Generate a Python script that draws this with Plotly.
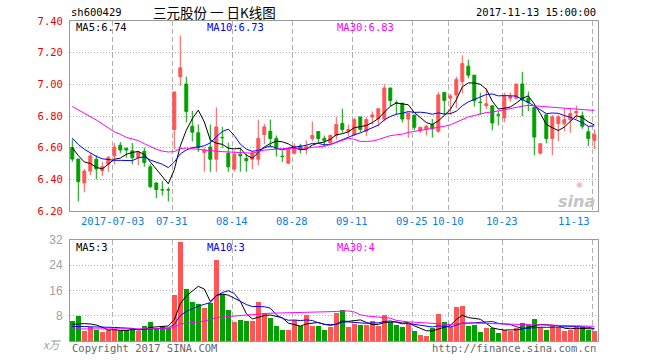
import plotly.graph_objects as go

# ---------------- data ----------------
opens = [6.60, 6.528, 6.377, 6.452, 6.527, 6.455, 6.495, 6.548, 6.615, 6.596,
         6.58, 6.537, 6.577, 6.479, 6.377, 6.335, 6.335, 6.715, 7.048, 7.002,
         6.735, 6.694, 6.569, 6.604, 6.527, 6.665, 6.565, 6.465, 6.558, 6.531,
         6.527, 6.527, 6.683, 6.704, 6.658, 6.546, 6.502, 6.565, 6.61, 6.594,
         6.658, 6.702, 6.658, 6.631, 6.677, 6.752, 6.704, 6.683, 6.794, 6.704,
         6.794, 6.781, 6.781, 6.977, 6.883, 6.881, 6.781, 6.806, 6.71, 6.715,
         6.746, 6.704, 6.948, 6.912, 6.933, 7.017, 7.115, 7.058, 6.887, 6.865,
         6.865, 6.808, 6.788, 6.912, 6.912, 7.002, 6.912, 6.854, 6.565, 6.808,
         6.658, 6.752, 6.752, 6.777, 6.819, 6.802, 6.70, 6.646]
highs = [6.652, 6.53, 6.465, 6.565, 6.552, 6.51, 6.548, 6.63, 6.635, 6.60,
         6.63, 6.58, 6.60, 6.496, 6.381, 6.39, 6.35, 6.952, 7.308, 7.048,
         6.833, 6.746, 6.60, 6.746, 6.854, 6.731, 6.631, 6.58, 6.60, 6.56,
         6.58, 6.777, 6.75, 6.777, 6.677, 6.579, 6.60, 6.627, 6.625, 6.646,
         6.765, 6.702, 6.677, 6.683, 6.794, 6.846, 6.746, 6.788, 6.794, 6.794,
         6.829, 6.846, 7.0, 6.977, 6.898, 6.881, 6.819, 6.806, 6.729, 6.746,
         6.781, 6.95, 6.948, 6.94, 7.048, 7.183, 7.156, 7.058, 6.948, 6.975,
         6.865, 6.83, 6.948, 6.948, 7.002, 7.079, 6.954, 6.854, 6.625, 6.808,
         6.808, 6.808, 6.846, 6.846, 6.865, 6.829, 6.735, 6.715]
lows = [6.511, 6.26, 6.319, 6.427, 6.40, 6.42, 6.448, 6.495, 6.565, 6.537,
        6.495, 6.49, 6.48, 6.344, 6.281, 6.298, 6.26, 6.59, 6.99, 6.76,
        6.64, 6.573, 6.448, 6.448, 6.448, 6.60, 6.448, 6.448, 6.448, 6.448,
        6.465, 6.49, 6.621, 6.60, 6.544, 6.51, 6.496, 6.558, 6.563, 6.558,
        6.642, 6.631, 6.606, 6.621, 6.652, 6.694, 6.673, 6.673, 6.698, 6.673,
        6.746, 6.735, 6.767, 6.86, 6.808, 6.76, 6.663, 6.71, 6.694, 6.677,
        6.663, 6.694, 6.808, 6.808, 6.85, 6.944, 7.038, 6.86, 6.808, 6.844,
        6.71, 6.74, 6.76, 6.89, 6.906, 6.80, 6.83, 6.552, 6.558, 6.627,
        6.552, 6.642, 6.704, 6.694, 6.781, 6.719, 6.61, 6.59]
closes = [6.528, 6.385, 6.452, 6.548, 6.465, 6.48, 6.537, 6.604, 6.585, 6.585,
          6.537, 6.569, 6.506, 6.354, 6.335, 6.333, 6.333, 6.952, 7.104, 6.829,
          6.698, 6.60, 6.585, 6.527, 6.731, 6.663, 6.479, 6.558, 6.548, 6.517,
          6.565, 6.658, 6.731, 6.658, 6.594, 6.544, 6.594, 6.61, 6.594, 6.606,
          6.677, 6.658, 6.646, 6.677, 6.746, 6.715, 6.715, 6.777, 6.715, 6.777,
          6.806, 6.846, 6.977, 6.898, 6.881, 6.781, 6.819, 6.729, 6.729, 6.735,
          6.719, 6.933, 6.898, 6.927, 7.031, 7.131, 7.058, 6.896, 6.885, 6.877,
          6.756, 6.806, 6.923, 6.923, 7.002, 6.902, 6.885, 6.667, 6.625, 6.658,
          6.794, 6.794, 6.777, 6.815, 6.829, 6.735, 6.658, 6.683]
ma5 = [6.60, 6.55, 6.51, 6.50, 6.476, 6.466, 6.496, 6.527, 6.534, 6.558,
       6.570, 6.576, 6.556, 6.510, 6.460, 6.419, 6.372, 6.461, 6.611, 6.710,
       6.783, 6.837, 6.763, 6.648, 6.628, 6.621, 6.597, 6.592, 6.596, 6.553,
       6.533, 6.569, 6.604, 6.626, 6.641, 6.637, 6.624, 6.600, 6.587, 6.590,
       6.616, 6.629, 6.636, 6.653, 6.681, 6.688, 6.700, 6.726, 6.734, 6.740,
       6.758, 6.784, 6.824, 6.861, 6.882, 6.877, 6.871, 6.822, 6.788, 6.759,
       6.746, 6.769, 6.803, 6.842, 6.902, 6.984, 7.009, 7.009, 7.000, 6.969,
       6.894, 6.844, 6.849, 6.857, 6.882, 6.911, 6.927, 6.876, 6.816, 6.747,
       6.726, 6.708, 6.730, 6.768, 6.802, 6.790, 6.763, 6.744]
ma10 = [6.66, 6.62, 6.59, 6.565, 6.545, 6.53, 6.525, 6.52, 6.52, 6.517,
        6.518, 6.536, 6.542, 6.522, 6.509, 6.495, 6.474, 6.509, 6.561, 6.585,
        6.601, 6.604, 6.612, 6.630, 6.669, 6.702, 6.717, 6.677, 6.622, 6.591,
        6.577, 6.583, 6.598, 6.611, 6.597, 6.585, 6.597, 6.602, 6.607, 6.615,
        6.627, 6.627, 6.618, 6.620, 6.635, 6.652, 6.664, 6.681, 6.693, 6.710,
        6.723, 6.742, 6.775, 6.797, 6.811, 6.817, 6.828, 6.823, 6.824, 6.820,
        6.811, 6.820, 6.812, 6.815, 6.830, 6.865, 6.889, 6.906, 6.921, 6.936,
        6.939, 6.927, 6.929, 6.929, 6.926, 6.903, 6.886, 6.863, 6.837, 6.815,
        6.819, 6.817, 6.803, 6.792, 6.775, 6.758, 6.735, 6.737]
ma30 = [6.86, 6.84, 6.82, 6.80, 6.775, 6.75, 6.725, 6.70, 6.685, 6.665,
        6.655, 6.645, 6.625, 6.605, 6.59, 6.578, 6.573, 6.575, 6.595, 6.597,
        6.595, 6.59, 6.585, 6.58, 6.578, 6.575, 6.573, 6.568, 6.566, 6.564,
        6.565, 6.575, 6.584, 6.588, 6.592, 6.594, 6.596, 6.596, 6.596, 6.597,
        6.602, 6.605, 6.609, 6.620, 6.634, 6.647, 6.659, 6.653, 6.640, 6.639,
        6.642, 6.651, 6.664, 6.676, 6.681, 6.685, 6.696, 6.702, 6.708, 6.715,
        6.720, 6.730, 6.735, 6.744, 6.759, 6.778, 6.794, 6.803, 6.813, 6.822,
        6.825, 6.830, 6.839, 6.847, 6.856, 6.862, 6.867, 6.864, 6.861, 6.857,
        6.856, 6.855, 6.848, 6.845, 6.843, 6.842, 6.837, 6.835]
volumes = [6.3, 7.9, 3.2, 4.5, 3.4, 2.8, 3.5, 3.8, 3.1, 3.6,
           4.2, 3.1, 4.7, 6.0, 4.2, 4.7, 4.2, 14.6, 31.4, 16.6,
           12.4, 11.6, 10.3, 11.9, 25.8, 14.8, 9.8, 6.0, 6.6, 6.3,
           6.3, 12.2, 9.0, 7.4, 4.7, 3.6, 3.6, 6.8, 4.9, 8.1,
           4.7, 4.9, 3.6, 4.4, 8.9, 9.8, 4.4, 5.3, 5.0, 5.0,
           6.3, 4.7, 8.2, 6.0, 5.0, 4.5, 5.4, 3.1, 1.8, 1.5,
           4.2, 8.5, 6.0, 4.4, 10.9, 11.1, 4.7, 5.0, 2.8, 4.2,
           4.2, 2.5, 3.6, 3.1, 4.2, 5.7, 5.0, 6.9, 4.5, 3.6,
           4.7, 4.5, 3.1, 3.4, 4.5, 4.5, 3.6, 3.1]
vol_ma5 = [5.3, 5.5, 5.5, 5.4, 5.06, 4.36, 3.48, 3.6, 3.32, 3.36,
           3.64, 3.56, 3.74, 4.32, 4.44, 4.54, 4.76, 6.74, 11.82, 14.3,
           15.84, 17.32, 16.46, 12.56, 14.4, 14.88, 14.52, 13.66, 12.6, 8.7,
           7.0, 7.48, 8.08, 8.24, 7.92, 7.38, 5.66, 5.22, 4.72, 5.4,
           5.62, 5.88, 5.24, 5.14, 5.3, 6.32, 6.22, 6.56, 6.68, 5.9,
           5.2, 5.26, 5.84, 6.04, 6.04, 5.68, 5.82, 4.8, 3.96, 3.26,
           3.2, 3.82, 4.4, 4.92, 6.8, 8.18, 7.42, 7.22, 6.9, 5.56,
           4.18, 3.74, 3.46, 3.52, 3.52, 3.82, 4.32, 4.98, 5.26, 5.14,
           4.94, 4.84, 4.08, 3.86, 4.04, 4.0, 3.82, 3.82]
vol_ma10 = [4.6, 4.7, 4.6, 4.5, 4.5, 4.4, 4.3, 4.3, 4.2, 4.21,
            4.0, 3.52, 3.67, 3.82, 3.9, 4.09, 4.16, 5.24, 8.07, 9.37,
            10.19, 11.04, 11.6, 12.19, 14.35, 15.36, 15.92, 15.06, 12.58, 11.55,
            10.94, 11.0, 10.87, 10.42, 8.31, 7.19, 6.57, 6.65, 6.48, 6.66,
            6.5, 5.77, 5.23, 4.93, 5.35, 5.97, 6.05, 5.9, 5.91, 5.6,
            5.76, 5.74, 6.2, 6.36, 5.97, 5.44, 5.54, 5.32, 5.0, 4.65,
            4.44, 4.82, 4.6, 4.44, 5.03, 5.69, 5.62, 5.81, 5.91, 6.18,
            6.18, 5.58, 5.34, 5.21, 4.54, 4.0, 4.03, 4.22, 4.39, 4.33,
            4.38, 4.58, 4.53, 4.56, 4.59, 4.47, 4.33, 3.95]
vol_ma30 = [3.8, 3.8, 3.7, 3.7, 3.7, 3.7, 3.7, 3.7, 3.7, 3.7,
            3.7, 3.7, 3.8, 3.8, 3.8, 3.8, 3.9, 4.4, 5.4, 5.6,
            5.8, 6.0, 6.3, 6.8, 7.4, 7.6, 7.8, 7.9, 8.1, 8.38,
            8.38, 8.52, 8.71, 8.81, 8.85, 8.88, 8.88, 8.98, 9.04, 9.19,
            9.21, 9.27, 9.23, 9.18, 9.34, 9.51, 9.51, 9.2, 8.32, 7.94,
            7.73, 7.5, 7.43, 7.24, 6.54, 6.2, 6.05, 5.96, 5.8, 5.64,
            5.57, 5.44, 5.34, 5.24, 5.45, 5.7, 5.74, 5.68, 5.61, 5.48,
            5.46, 5.38, 5.38, 5.34, 5.18, 5.04, 5.06, 5.12, 5.1, 5.05,
            5.0, 4.99, 4.82, 4.74, 4.72, 4.72, 4.66, 4.66]
tick_index = [7, 17, 27, 37, 47, 57, 63, 72, 87]
tick_labels = ["2017-07-03", "07-31", "08-14", "08-28", "09-11",
               "09-25", "10-10", "10-23", "11-13"]
price_ticks = [6.20, 6.40, 6.60, 6.80, 7.00, 7.20, 7.40]
volume_ticks = [8, 16, 24, 32]
volume_tick_labels = ["8", "16", "24", "32"]

symbol = "sh600429"
title = "三元股份 一 日K线图"
timestamp = "2017-11-13 15:00:00"
ma_labels = ["MA5:6.74", "MA10:6.73", "MA30:6.83"]
vol_ma_labels = ["MA5:3", "MA10:3", "MA30:4"]

# ---------------- styling ----------------
W, H = 660, 360
L, R, T, B = 70, 598, 21, 341
PRICE_BOTTOM, VOL_TOP = 211, 240
RED, GREEN = "#ff5555", "#00a000"
MA_COLORS = ["#000000", "#0000ff", "#ff00ff"]
MONO = "DejaVu Sans Mono"
GRID = "#b0b0b0"
FRAME = "#999999"


def px(x):
    return (x - L) / (R - L)


def py(y):
    return (B - y) / (B - T)


idx = list(range(len(closes)))
n = len(closes)
xr = [-0.383, n - 0.383]
grid_x = [t - 0.33 for t in tick_index]
vol_colors = [RED if c >= o else GREEN for o, c in zip(opens, closes)]

fig = go.Figure()
fig.add_trace(go.Candlestick(
    x=idx, open=opens, high=highs, low=lows, close=closes,
    xaxis="x", yaxis="y", whiskerwidth=0,
    increasing=dict(line=dict(color=RED, width=1), fillcolor=RED),
    decreasing=dict(line=dict(color=GREEN, width=1), fillcolor=GREEN),
    hoverinfo="skip"))
for series, col in zip([ma5, ma10, ma30], MA_COLORS):
    fig.add_trace(go.Scatter(x=idx, y=series, mode="lines", xaxis="x", yaxis="y",
                             line=dict(color=col, width=1), hoverinfo="skip"))

fig.add_trace(go.Bar(x=idx, y=volumes, marker=dict(color=vol_colors, line=dict(width=0)),
                     width=0.8, xaxis="x2", yaxis="y2", hoverinfo="skip"))
for series, col in zip([vol_ma5, vol_ma10, vol_ma30], MA_COLORS):
    fig.add_trace(go.Scatter(x=idx, y=series, mode="lines", xaxis="x2", yaxis="y2",
                             line=dict(color=col, width=1), hoverinfo="skip"))

common_x = dict(range=xr, tickvals=grid_x, showticklabels=False, ticks="",
                showgrid=True, gridcolor=GRID, griddash="5px,3px", gridwidth=1,
                showline=True, mirror=True, linecolor=FRAME, linewidth=1,
                zeroline=False, fixedrange=True)
fig.update_layout(
    width=W, height=H,
    margin=dict(l=L, r=W - R, t=T, b=H - B, pad=0),
    paper_bgcolor="white", plot_bgcolor="white",
    showlegend=False, hovermode=False, bargap=0,
    xaxis=dict(domain=[0, 1], anchor="y", rangeslider=dict(visible=False), **common_x),
    xaxis2=dict(domain=[0, 1], anchor="y2", **common_x),
    yaxis=dict(domain=[py(PRICE_BOTTOM), 1], range=[price_ticks[0], price_ticks[-1]],
               tickvals=price_ticks, tickformat=".2f", ticks="",
               tickfont=dict(family=MONO, size=10.5, color="#ee0000"),
               showgrid=True, gridcolor=GRID, griddash="1px,2px",
               showline=True, mirror=True, linecolor=FRAME, linewidth=1,
               zeroline=False, ticklabelstandoff=4, fixedrange=True),
    yaxis2=dict(domain=[0, py(VOL_TOP)], range=[0, volume_ticks[-1]],
                tickvals=volume_ticks, ticktext=volume_tick_labels, ticks="",
                tickfont=dict(family="Liberation Sans", size=12, color="#a0a0a0"),
                showgrid=True, gridcolor=GRID, griddash="1px,2px",
                showline=True, mirror=True, linecolor=FRAME, linewidth=1,
                zeroline=False, ticklabelstandoff=4, fixedrange=True),
)

ann = []


def text(x, y, s, color="#000000", size=10, family=MONO, xanchor="left", **kw):
    ann.append(dict(x=px(x), y=py(y), xref="paper", yref="paper", text=s,
                    showarrow=False, xanchor=xanchor, yanchor="middle",
                    font=dict(family=family, size=size, color=color, **kw)))


# header
text(69, 12, symbol, size=10.5)
text(151, 12, title, size=13.5, family="Noto Sans CJK SC")
text(598, 12, timestamp, size=10.5, xanchor="right")
# MA legends
for lbl, col, x in zip(ma_labels, MA_COLORS, [74, 205, 335]):
    text(x, 27, lbl, color=col, size=10.5)
for lbl, col, x in zip(vol_ma_labels, MA_COLORS, [74, 205, 335]):
    text(x, 247, lbl, color=col, size=10.5)
# x tick labels as annotations (last one right-aligned like the original)
for i, (t, lbl) in enumerate(zip(grid_x, tick_labels)):
    ann.append(dict(x=t, y=py(221), xref="x", yref="paper", text=lbl, showarrow=False,
                    xanchor="right" if i == len(tick_labels) - 1 else "center",
                    yanchor="middle",
                    font=dict(family=MONO, size=10.5, color="#0a80dc")))
# unit and footer
text(63, 344, "x万", color="#a0a0a0", size=11, family="Noto Sans CJK SC",
     xanchor="right", style="italic")
text(70, 348, "Copyright 2017 SINA.COM", color="#666666", size=10.5)
text(598, 348, "http://finance.sina.com.cn", color="#666666", size=10.5, xanchor="right")
# watermark
text(597, 201, "sina", color="#c4c4c4", size=16, family="DejaVu Sans",
     xanchor="right", weight="bold", style="italic")
text(579, 184, "◉", color="#f4b4b4", size=8, family="DejaVu Sans", xanchor="center")

fig.update_layout(annotations=ann)
fig.write_html("out.html", config={"displayModeBar": False},
               post_script="document.body.style.margin='0';document.body.style.overflow='hidden';")
